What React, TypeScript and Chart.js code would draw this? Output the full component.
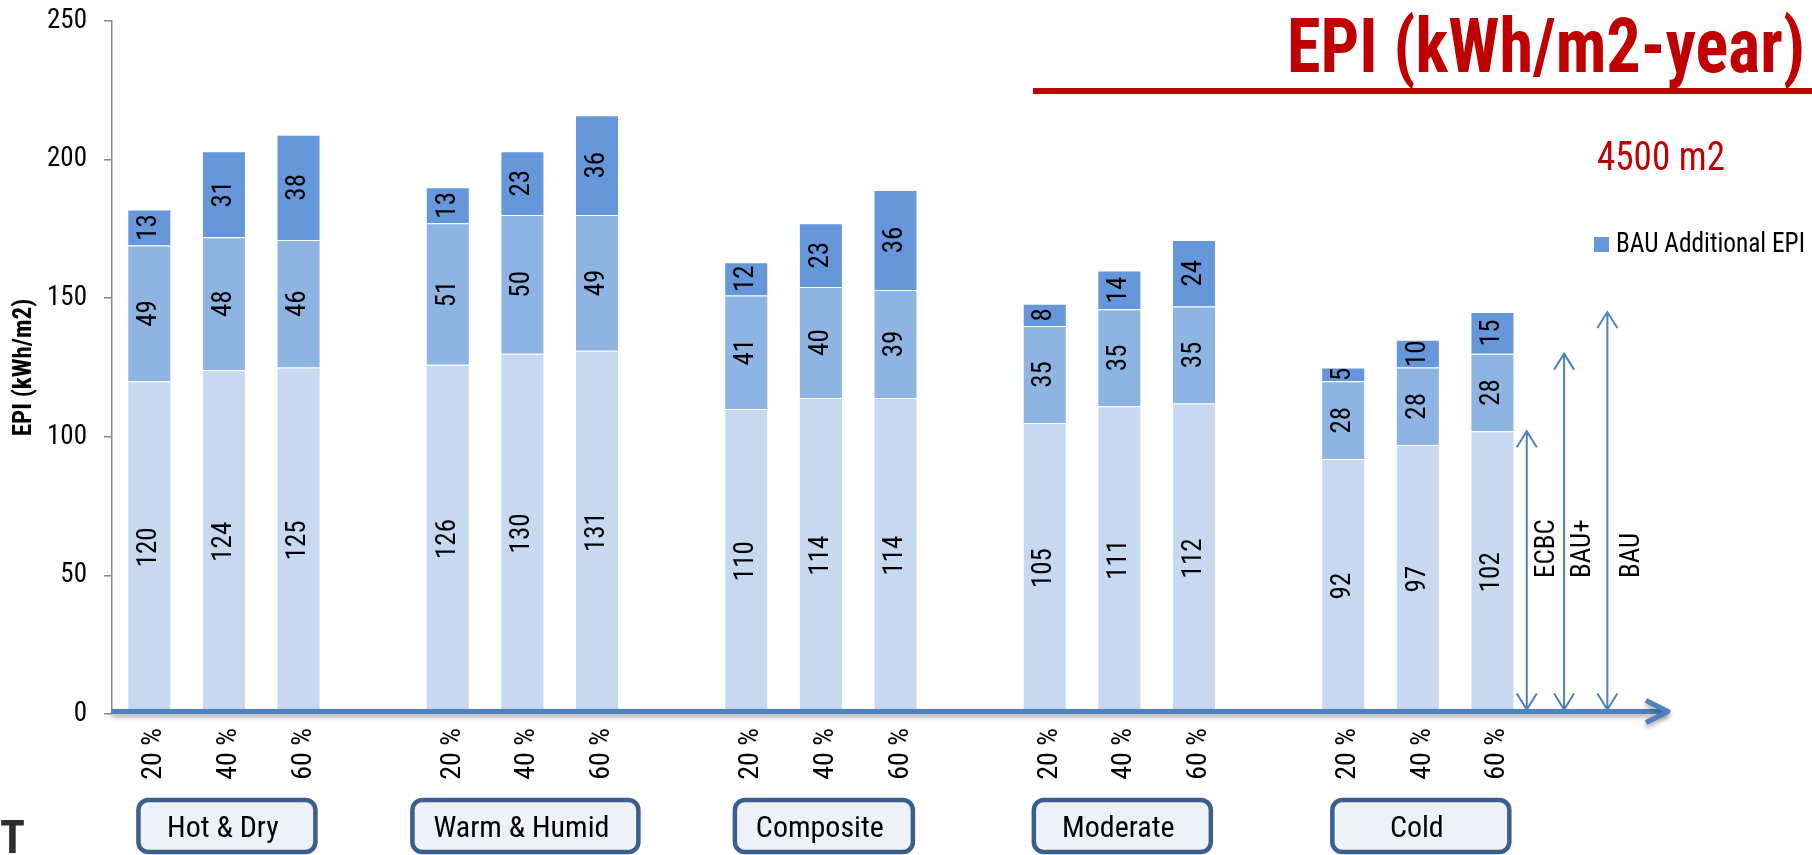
import React, { useEffect, useRef } from 'react';
import { Chart, registerables } from 'chart.js';

Chart.register(...registerables);

const FONT = "'Roboto Condensed', 'Liberation Sans Narrow', 'DejaVu Sans Condensed', sans-serif";

// ---- data ----
const zones = ['Hot & Dry', 'Warm & Humid', 'Composite', 'Moderate', 'Cold'];
const wwrLabels = ['20 %', '40 %', '60 %'];
const ecbcEPI = [120, 124, 125, 126, 130, 131, 110, 114, 114, 105, 111, 112, 92, 97, 102];
const bauPlusAdditional = [49, 48, 46, 51, 50, 49, 41, 40, 39, 35, 35, 35, 28, 28, 28];
const bauAdditional = [13, 31, 38, 13, 23, 36, 12, 23, 36, 8, 14, 24, 5, 10, 15];
const yTicks = [0, 50, 100, 150, 200, 250];
const arrowNames = ['ECBC', 'BAU+', 'BAU'];
const titleText = 'EPI (kWh/m2-year)';
const areaText = '4500 m2';
const yTitle = 'EPI (kWh/m2)';

// ---- build category table (3 bars per zone + a gap slot, plus trailing space) ----
const categories: string[] = [];
const groupIndex: number[][] = [];
const toSlots = (vals: number[]) => {
  const out: (number | null)[] = [];
  zones.forEach((_, z) => {
    wwrLabels.forEach((_, w) => out.push(vals[z * 3 + w]));
    out.push(null);
  });
  out.push(null);
  return out;
};
zones.forEach((_, z) => {
  const idx: number[] = [];
  wwrLabels.forEach((w) => {
    idx.push(categories.length);
    categories.push(w);
  });
  groupIndex.push(idx);
  categories.push('');
});
categories.push('');

const COLORS = ['#C6D9F1', '#8EB4E3', '#6597DA'];
const AXIS_BLUE = '#4F81BD';

// draw text squeezed horizontally to a target width (condensed look)
function fillFit(ctx: CanvasRenderingContext2D, text: string, x: number, y: number, width: number) {
  const w = ctx.measureText(text).width;
  const sx = Math.min(1, width / w);
  ctx.save();
  ctx.translate(x, y);
  ctx.scale(sx, 1);
  ctx.textAlign = 'left';
  ctx.fillText(text, 0, 0);
  ctx.restore();
}

const decorPlugin = {
  id: 'decor',
  afterDatasetsDraw(chart: any) {
    const ctx = chart.ctx as CanvasRenderingContext2D;
    const xs = chart.scales.x;
    const ys = chart.scales.y;
    const area = chart.chartArea;
    const slot = xs.getPixelForValue(1) - xs.getPixelForValue(0);

    // data labels
    ctx.save();
    ctx.fillStyle = '#000';
    ctx.font = `27px ${FONT}`;
    ctx.textAlign = 'center';
    ctx.textBaseline = 'middle';
    chart.data.datasets.forEach((ds: any, di: number) => {
      const meta = chart.getDatasetMeta(di);
      meta.data.forEach((el: any, i: number) => {
        const v = ds.data[i];
        if (v == null) return;
        const p = el.getProps(['x', 'y', 'base'], true);
        ctx.save();
        ctx.translate(p.x, (p.y + p.base) / 2);
        ctx.rotate(-Math.PI / 2);
        ctx.fillText(String(v), 0, 0);
        ctx.restore();
      });
    });
    ctx.restore();

    // x axis line with arrow
    const yAxis = area.bottom - 2.5;
    const tip = area.right - 11;
    ctx.save();
    ctx.strokeStyle = AXIS_BLUE;
    ctx.lineWidth = 5;
    ctx.lineJoin = 'round';
    ctx.shadowColor = 'rgba(0,0,0,0.35)';
    ctx.shadowBlur = 5;
    ctx.shadowOffsetY = 3;
    ctx.beginPath();
    ctx.moveTo(area.left, yAxis);
    ctx.lineTo(tip - 3, yAxis);
    ctx.stroke();
    ctx.beginPath();
    ctx.moveTo(tip - 22, yAxis - 11);
    ctx.lineTo(tip, yAxis);
    ctx.lineTo(tip - 22, yAxis + 11);
    ctx.stroke();
    ctx.restore();

    // double arrows for ECBC / BAU+ / BAU on last bar
    const last = ecbcEPI.length - 1;
    const lastIdx = groupIndex[zones.length - 1][2];
    const xBar = xs.getPixelForValue(lastIdx);
    const tops = [
      ecbcEPI[last],
      ecbcEPI[last] + bauPlusAdditional[last],
      ecbcEPI[last] + bauPlusAdditional[last] + bauAdditional[last],
    ];
    const xOff = [0.46, 0.96, 1.54];
    const labelOff = [20, 19, 25];
    tops.forEach((t, k) => {
      const ax = xBar + xOff[k] * slot;
      const yt = ys.getPixelForValue(t);
      const yb = yAxis - 2;
      ctx.save();
      ctx.strokeStyle = AXIS_BLUE;
      ctx.lineWidth = 2;
      ctx.beginPath();
      ctx.moveTo(ax, yt);
      ctx.lineTo(ax, yb);
      ctx.moveTo(ax - 10, yt + 16);
      ctx.lineTo(ax, yt);
      ctx.lineTo(ax + 10, yt + 16);
      ctx.moveTo(ax - 10, yb - 16);
      ctx.lineTo(ax, yb);
      ctx.lineTo(ax + 10, yb - 16);
      ctx.stroke();
      ctx.fillStyle = '#000';
      ctx.font = `27px ${FONT}`;
      ctx.textAlign = 'left';
      ctx.textBaseline = 'middle';
      ctx.translate(ax + labelOff[k], 578);
      ctx.rotate(-Math.PI / 2);
      ctx.fillText(arrowNames[k], 0, 0);
      ctx.restore();
    });

    // zone boxes
    ctx.save();
    ctx.font = `30px ${FONT}`;
    zones.forEach((z, g) => {
      const idx = groupIndex[g];
      const cx = (xs.getPixelForValue(idx[0]) + xs.getPixelForValue(idx[2])) / 2 + 3;
      const tw = ctx.measureText(z).width;
      const w = Math.max(177, tw + 50);
      const top = 800;
      const h = 52;
      ctx.beginPath();
      ctx.roundRect(cx - w / 2, top, w, h, 10);
      ctx.fillStyle = '#EDF2F8';
      ctx.fill();
      ctx.lineWidth = 4.5;
      ctx.strokeStyle = '#3B5E8C';
      ctx.stroke();
      ctx.fillStyle = '#000';
      ctx.textAlign = 'center';
      ctx.textBaseline = 'middle';
      ctx.fillText(z, cx - 4, top + 29);
    });
    ctx.restore();

    // title, underline, area, legend, stray T
    ctx.save();
    ctx.textBaseline = 'alphabetic';
    ctx.fillStyle = '#C00000';
    ctx.font = `bold 76px ${FONT}`;
    fillFit(ctx, titleText, 1287, 72, 518);
    ctx.fillRect(1033, 88, 1812 - 1033, 6);
    ctx.font = `40px ${FONT}`;
    fillFit(ctx, areaText, 1597, 170, 128);
    const ds = chart.data.datasets[2];
    ctx.fillStyle = ds.backgroundColor;
    ctx.fillRect(1594, 237, 15, 15);
    ctx.fillStyle = '#000';
    ctx.font = `27px ${FONT}`;
    fillFit(ctx, ds.label, 1616, 252, 189);
    ctx.fillStyle = '#2E2E2E';
    ctx.font = `bold 46px ${FONT}`;
    ctx.fillText('T', 0, 853);
    ctx.restore();
  },
};

export default function App() {
  const ref = useRef<HTMLCanvasElement>(null);
  useEffect(() => {
    const chart = new Chart(ref.current as HTMLCanvasElement, {
      type: 'bar',
      data: {
        labels: categories,
        datasets: [
          { label: 'ECBC EPI', data: toSlots(ecbcEPI), backgroundColor: COLORS[0] },
          { label: 'BAU+ Additional EPI', data: toSlots(bauPlusAdditional), backgroundColor: COLORS[1] },
          { label: 'BAU Additional EPI', data: toSlots(bauAdditional), backgroundColor: COLORS[2] },
        ].map((d) => ({
          ...d,
          borderColor: 'rgba(255,255,255,0.45)',
          borderWidth: 1,
          categoryPercentage: 1,
          barPercentage: 0.59,
        })),
      },
      options: {
        responsive: false,
        animation: false,
        layout: { padding: { left: 0, top: 21, right: 133, bottom: 0 } },
        plugins: { legend: { display: false }, tooltip: { enabled: false } },
        scales: {
          x: {
            stacked: true,
            grid: { display: false, drawTicks: false },
            border: { display: false },
            ticks: {
              autoSkip: false,
              maxRotation: 90,
              minRotation: 90,
              padding: 14,
              labelOffset: 5,
              color: '#000',
              font: { family: FONT, size: 28 },
            },
            afterFit: (s: any) => {
              s.height = 141;
              s.paddingLeft = 0;
              s.paddingRight = 0;
            },
          },
          y: {
            stacked: true,
            min: 0,
            max: 250,
            afterBuildTicks: (s: any) => {
              s.ticks = yTicks.map((v) => ({ value: v }));
            },
            border: { display: true, color: '#888888', width: 1.5 },
            grid: { drawOnChartArea: false, drawTicks: true, tickLength: 8, color: '#888888', lineWidth: 1.5 },
            ticks: { padding: 17, color: '#000', font: { family: FONT, size: 27 } },
            title: {
              display: true,
              text: yTitle,
              color: '#000',
              font: { family: FONT, size: 25, weight: 'bold' },
              padding: { top: 10, bottom: 0 },
            },
            afterFit: (s: any) => {
              s.width = 112;
              s.paddingTop = 0;
              s.paddingBottom = 0;
            },
          },
        },
      },
      plugins: [decorPlugin],
    } as any);
    return () => chart.destroy();
  }, []);
  return (
    <div style={{ position: 'absolute', left: 0, top: 0, width: 1812, height: 855, background: '#fff' }}>
      <canvas ref={ref} width={1812} height={855} style={{ display: 'block' }} />
    </div>
  );
}
